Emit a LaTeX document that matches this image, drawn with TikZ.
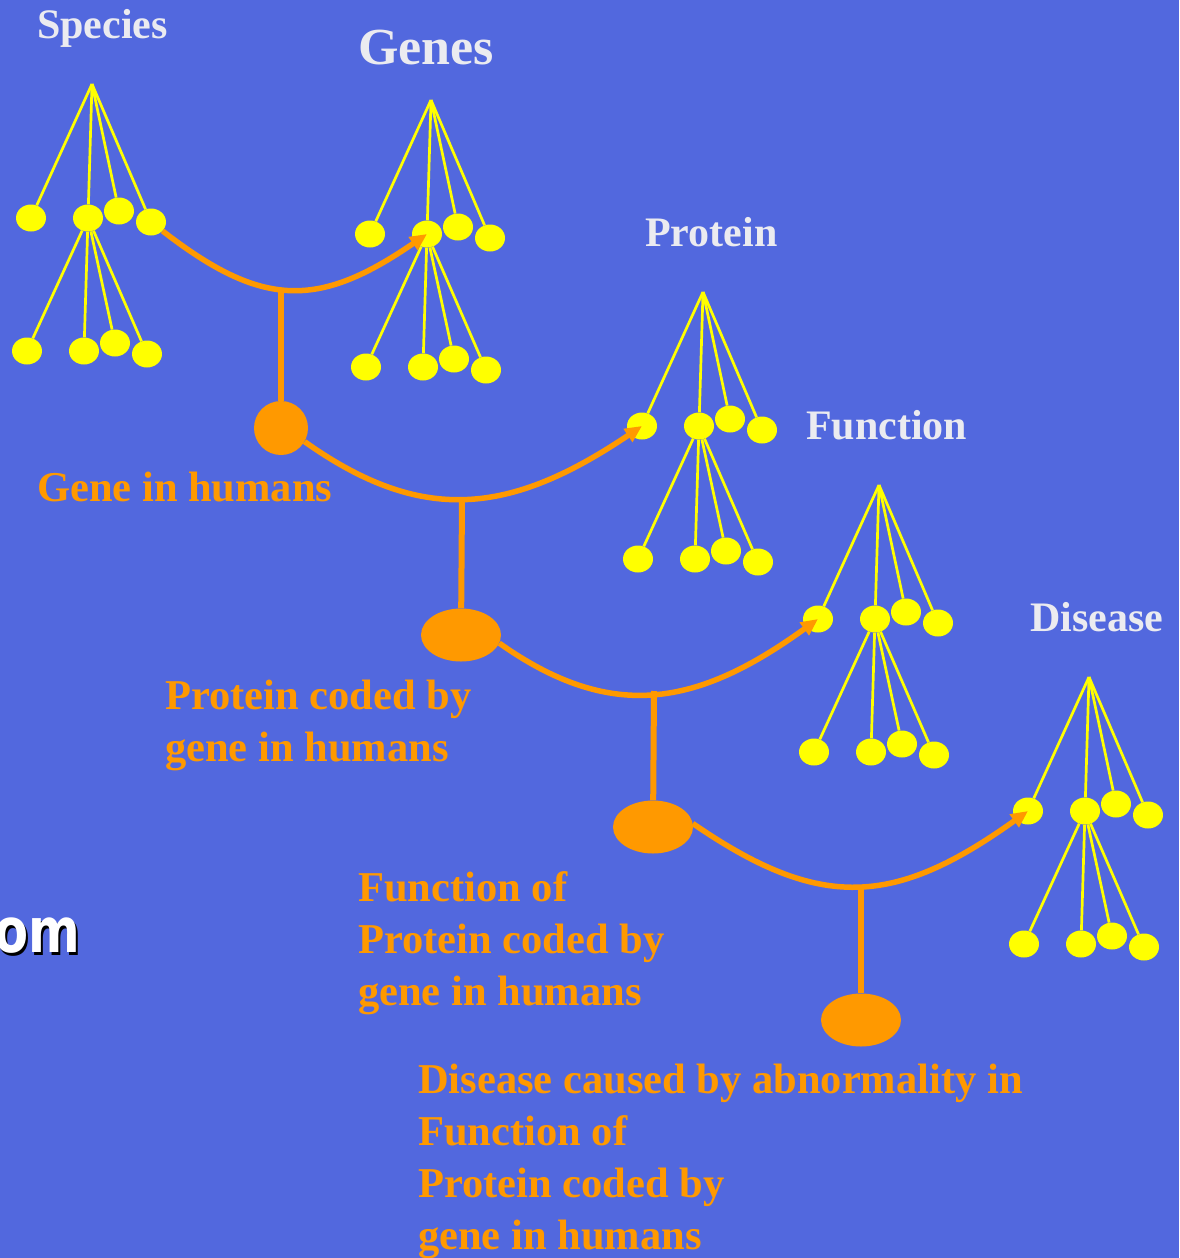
\documentclass[tikz,border=0pt]{standalone}
\usepackage{fontspec}
\setmainfont{Liberation Serif}
\newfontfamily\omfont{DejaVu Sans}
\usetikzlibrary{arrows.meta,shapes.geometric}

\definecolor{slide}{RGB}{82,104,222}
\definecolor{leafyellow}{RGB}{255,255,0}
\definecolor{linkorange}{RGB}{255,153,0}
\definecolor{titlegray}{RGB}{235,235,240}

\begin{document}
\begin{tikzpicture}[x=1pt,y=-1pt,
    leaf/.style={shape=ellipse,fill=leafyellow,minimum width=30pt,minimum height=27pt,inner sep=0pt},
    hub/.style={shape=ellipse,fill=linkorange,minimum width=80pt,minimum height=53pt,inner sep=0pt},
    twig/.style={draw=leafyellow,line width=2.7pt},
    link/.style={draw=linkorange,line width=5.5pt,-{Triangle[length=17pt,width=15pt]}},
    stem/.style={draw=linkorange,line width=6pt},
    title/.style={text=titlegray,font=\bfseries\fontsize{42}{50}\selectfont,anchor=base west,inner sep=0pt},
    caption/.style={text=linkorange,font=\bfseries\fontsize{42.5}{52}\selectfont,align=left,anchor=base west,inner sep=0pt}]

      \fill[slide] (0,0) rectangle (1179,1258);
      \useasboundingbox (0,0) rectangle (1179,1258);

      % one little tree per level
      \foreach \n/\x/\y in {sp/92/84,ge/431/100,pr/703/292,fu/879/485,di/1089/677} {
        \coordinate (\n) at (\x,\y);
        \node[leaf] (\n1) at (\x-61,\y+134) {};
        \node[leaf] (\n2) at (\x-4,\y+134) {};
        \node[leaf] (\n3) at (\x+27,\y+127) {};
        \node[leaf] (\n4) at (\x+59,\y+138) {};
        \node[leaf] (\n5) at (\x-65,\y+267) {};
        \node[leaf] (\n6) at (\x-8,\y+267) {};
        \node[leaf] (\n7) at (\x+23,\y+259) {};
        \node[leaf] (\n8) at (\x+55,\y+270) {};
        \draw[twig] (\n) -- (\n1);
        \draw[twig] (\n) -- (\n2);
        \draw[twig] (\n) -- (\n3);
        \draw[twig] (\n) -- (\n4);
        \draw[twig] (\n2) -- (\n5);
        \draw[twig] (\n2) -- (\n6);
        \draw[twig] (\n2) -- (\n7);
        \draw[twig] (\n2) -- (\n8);
      }

      \node[title] (tsp) at (37,38) {Species};
      \node[title,font=\bfseries\fontsize{52}{60}\selectfont] (tge) at (358,64) {Genes};
      \node[title] (tpr) at (645,246) {Protein};
      \node[title] (tfu) at (806,439) {Function};
      \node[title] (tdi) at (1030,631) {Disease};

      \node[hub,minimum width=54pt,minimum height=54pt] (e1) at (281,428) {};
      \node[hub] (e2) at (461,635) {};
      \node[hub] (e3) at (653,827) {};
      \node[hub] (e4) at (861,1020) {};

      \coordinate (b1) at (281,289);
      \coordinate (b2) at (462,500);
      \coordinate (b3) at (654,691);
      \coordinate (b4) at (861,885);

      \draw[stem] (b1) -- (e1);
      \draw[stem] (b2) -- (e2);
      \draw[stem] (b3) -- (e3);
      \draw[stem] (b4) -- (e4);

      \draw[link] (sp4) .. controls (262,308) and (318,309) .. (ge2.center);
      \draw[link] (e1.-30) .. controls (422,525) and (510,515) .. (pr1.center);
      \draw[link] (e2.-12) .. controls (612,723) and (698,706) .. (fu1.center);
      \draw[link] (e3.5) .. controls (820,911) and (894,907) .. (di1.center);

      \node[caption] (c1) at (37,501) {Gene in humans};
      \node[caption] (c2) at (165,761) {Protein coded by\\gene in humans};
      \node[caption] (c3) at (358,1005) {Function of\\Protein coded by\\gene in humans};
      \node[caption] (c4) at (418,1249) {Disease caused by abnormality in\\Function of\\Protein coded by\\gene in humans};

      \node[anchor=base east,inner sep=0pt,text=white,font=\omfont\bfseries\fontsize{62}{62}\selectfont] (om) at (80,952)
        {\scalebox{0.8}[1]{\rlap{\hspace{3pt}\raisebox{-3pt}{\color{black}om}}om}};
    \end{tikzpicture}
\end{document}
